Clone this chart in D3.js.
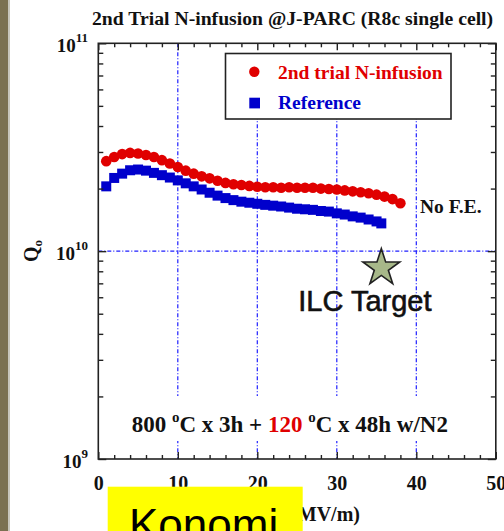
<!DOCTYPE html>
<html>
<head>
<meta charset="utf-8">
<script src="https://cdn.jsdelivr.net/npm/d3@7"></script>
<style>
  html, body { margin: 0; padding: 0; background: #fff; }
  svg { display: block; }
  .serif { font-family: "Liberation Serif", "Times New Roman", serif; font-weight: bold; }
</style>
</head>
<body>
<svg id="chart" width="504" height="531"></svg>
<script>
// Accelerating field (MV/m) and Q0 (x1e10) for the 2nd N-infusion trial
const eInfusion = [1, 2, 3, 4, 5, 6, 7, 8, 9, 10, 11, 12, 13, 14, 15, 16, 17, 18, 19, 20,
  21, 22, 23, 24, 25, 26, 27, 28, 29, 30, 31, 32, 33, 34, 35, 36, 37, 38];
const qInfusion = [2.71, 2.84, 2.93, 2.97, 2.95, 2.90, 2.84, 2.74, 2.64, 2.54, 2.44, 2.36, 2.29, 2.24,
  2.18, 2.13, 2.10, 2.08, 2.06, 2.04, 2.03, 2.03, 2.02, 2.03, 2.02, 2.02, 2.02, 2.00, 1.99, 1.98,
  1.96, 1.94, 1.92, 1.90, 1.87, 1.83, 1.78, 1.70];

// Reference measurement
const eReference = [1, 2, 3, 4, 5, 6, 7, 8, 9, 10, 11, 12, 13, 14, 15, 16, 17, 18, 19, 20,
  21, 22, 23, 24, 25, 26, 27, 28, 29, 30, 31, 32, 33, 34, 35, 35.6];
const qReference = [2.05, 2.25, 2.36, 2.45, 2.47, 2.44, 2.38, 2.32, 2.26, 2.19, 2.12, 2.05, 1.98, 1.91,
  1.85, 1.80, 1.76, 1.73, 1.71, 1.69, 1.67, 1.655, 1.64, 1.62, 1.60, 1.59, 1.58, 1.56, 1.55, 1.52,
  1.50, 1.47, 1.45, 1.42, 1.39, 1.36];

// ILC goal
const ilcTarget = [35.6, 0.83];

const xMajorTicks = [0, 10, 20, 30, 40, 50];
const xMinorTicks = [2, 4, 6, 8, 12, 14, 16, 18, 22, 24, 26, 28, 32, 34, 36, 38, 42, 44, 46, 48];
const xGridTicks = [10, 20, 30, 40];
const yMajorTicks = [1e9, 1e10, 1e11];
const yMinorTicks = [2e9, 3e9, 4e9, 5e9, 6e9, 7e9, 8e9, 9e9, 2e10, 3e10, 4e10, 5e10, 6e10, 7e10, 8e10, 9e10];
const yGridTicks = [1e10];

const seriesNames = ["2nd trial N-infusion", "Reference"];
const red = "#e00000", blue = "#0000cc", gridBlue = "#1f1fff";

const svg = d3.select("#chart");
const L = 98.3, R = 495.8, T = 43.3, B = 459;
const x = d3.scaleLinear().domain([0, 50]).range([L, R]);
const y = d3.scaleLog().domain([1e9, 1e11]).range([B, T]);

// slide edge on the left
svg.append("rect").attr("x", 0).attr("y", 0).attr("width", 8).attr("height", 531).attr("fill", "#7b7152");
svg.append("rect").attr("x", 8).attr("y", 0).attr("width", 2).attr("height", 531).attr("fill", "#c8c6bd");

// title
svg.append("text").attr("class", "serif").attr("x", 92).attr("y", 25)
  .attr("font-size", 19.7).attr("fill", "#111")
  .text("2nd Trial N-infusion @J-PARC (R8c single cell)");

// grid
const grid = svg.append("g").attr("stroke", gridBlue).attr("stroke-width", 1.2).attr("stroke-dasharray", "4,2,1,2");
grid.selectAll("line.v").data(xGridTicks).join("line")
  .attr("x1", d => x(d)).attr("x2", d => x(d)).attr("y1", T).attr("y2", B);
grid.selectAll("line.h").data(yGridTicks).join("line")
  .attr("x1", L).attr("x2", R).attr("y1", d => y(d)).attr("y2", d => y(d));

// white panels for legend and process note
svg.append("rect").attr("x", 125).attr("y", 396).attr("width", 333).attr("height", 45).attr("fill", "#fff");
svg.append("rect").attr("x", 225).attr("y", T).attr("width", 227).attr("height", 119 - T).attr("fill", "#fff");
const legend = svg.append("g");
legend.append("rect").attr("x", 225.5).attr("y", 53.5).attr("width", 225.5).attr("height", 65.5)
  .attr("fill", "#fff").attr("stroke", "#222").attr("stroke-width", 1.6);

// data
svg.append("g").selectAll("rect").data(eReference.map((e, i) => [e, qReference[i]])).join("rect")
  .attr("x", d => x(d[0]) - 5).attr("y", d => y(d[1] * 1e10) - 5)
  .attr("width", 10).attr("height", 10).attr("fill", blue);
svg.append("g").selectAll("circle").data(eInfusion.map((e, i) => [e, qInfusion[i]])).join("circle")
  .attr("cx", d => x(d[0])).attr("cy", d => y(d[1] * 1e10)).attr("r", 5.3).attr("fill", red);

// legend entries
legend.append("circle").attr("cx", 254.3).attr("cy", 71.7).attr("r", 5.2).attr("fill", red);
legend.append("text").attr("class", "serif").attr("x", 278).attr("y", 79.3)
  .attr("font-size", 19.5).attr("fill", red).text(seriesNames[0]);
legend.append("rect").attr("x", 249.3).attr("y", 97.7).attr("width", 10.7).attr("height", 10.7).attr("fill", blue);
legend.append("text").attr("class", "serif").attr("x", 278).attr("y", 108.5)
  .attr("font-size", 19.5).attr("fill", blue).text(seriesNames[1]);

// ILC target star
svg.append("path")
  .attr("d", d3.symbol(d3.symbolStar, 422))
  .attr("transform", `translate(${x(ilcTarget[0])},${y(ilcTarget[1] * 1e10)})`)
  .attr("fill", "#a7b889").attr("stroke", "#222").attr("stroke-width", 1.6).attr("stroke-linejoin", "miter");
svg.append("text").attr("x", 298.3).attr("y", 310.5)
  .attr("font-family", "'Liberation Sans', Arial, sans-serif").attr("font-size", 29)
  .attr("fill", "#111").attr("stroke", "#111").attr("stroke-width", 0.6).text("ILC Target");

// No field emission
svg.append("text").attr("class", "serif").attr("x", 420).attr("y", 213.3)
  .attr("font-size", 19.5).attr("fill", "#111").text("No F.E.");

// process note
const note = svg.append("text").attr("class", "serif").attr("x", 131.7).attr("y", 431.5)
  .attr("font-size", 23).attr("fill", "#111");
note.append("tspan").text("800 ");
note.append("tspan").attr("dy", -10).attr("font-size", 15).text("o");
note.append("tspan").attr("dy", 10).text("C x 3h + ");
note.append("tspan").attr("fill", red).text("120");
note.append("tspan").text(" ");
note.append("tspan").attr("dy", -10).attr("font-size", 15).text("o");
note.append("tspan").attr("dy", 10).text("C x 48h w/N2");

// axes (ticks point into the plot)
function styleAxis(g) {
  g.select(".domain").remove();
  g.selectAll(".tick line").attr("stroke", "#222").attr("stroke-width", 1.4);
}
svg.append("g").attr("transform", `translate(0,${B})`)
  .call(d3.axisBottom(x).tickValues(xMinorTicks).tickSizeInner(-4).tickSizeOuter(0).tickFormat(""))
  .call(styleAxis);
const xb = svg.append("g").attr("transform", `translate(0,${B})`)
  .call(d3.axisBottom(x).tickValues(xMajorTicks).tickSizeInner(-7).tickSizeOuter(0).tickPadding(16.8).tickFormat(d3.format("d")))
  .call(styleAxis);
xb.selectAll(".tick text").attr("class", "serif").attr("font-size", 20).attr("fill", "#111");
svg.append("g").attr("transform", `translate(0,${T})`)
  .call(d3.axisTop(x).tickValues(xMinorTicks).tickSizeInner(-4).tickSizeOuter(0).tickFormat(""))
  .call(styleAxis);
svg.append("g").attr("transform", `translate(0,${T})`)
  .call(d3.axisTop(x).tickValues(xMajorTicks).tickSizeInner(-7).tickSizeOuter(0).tickFormat(""))
  .call(styleAxis);

svg.append("g").attr("transform", `translate(${L},0)`)
  .call(d3.axisLeft(y).tickValues(yMinorTicks).tickSizeInner(-5).tickSizeOuter(0).tickFormat(""))
  .call(styleAxis);
const yl = svg.append("g").attr("transform", `translate(${L},0)`)
  .call(d3.axisLeft(y).tickValues(yMajorTicks).tickSizeInner(-8).tickSizeOuter(0).tickFormat(""))
  .call(styleAxis);
yl.selectAll(".tick text").each(function (d) {
  const t = d3.select(this).attr("class", "serif").attr("x", 88 - L).attr("y", 8).attr("dy", null)
    .attr("text-anchor", "end").attr("font-size", 19).attr("fill", "#111");
  t.append("tspan").text("10");
  t.append("tspan").attr("dy", -10).attr("font-size", 13).text(Math.round(Math.log10(d)));
});
svg.append("g").attr("transform", `translate(${R},0)`)
  .call(d3.axisRight(y).tickValues(yMinorTicks).tickSizeInner(-5).tickSizeOuter(0).tickFormat(""))
  .call(styleAxis);
svg.append("g").attr("transform", `translate(${R},0)`)
  .call(d3.axisRight(y).tickValues(yMajorTicks).tickSizeInner(-8).tickSizeOuter(0).tickFormat(""))
  .call(styleAxis);

// plot frame
svg.append("rect").attr("x", L).attr("y", T).attr("width", R - L).attr("height", B - T)
  .attr("fill", "none").attr("stroke", "#222").attr("stroke-width", 1.6);

// axis titles
const yt = svg.append("text").attr("class", "serif")
  .attr("transform", "translate(38,251) rotate(-90)").attr("text-anchor", "middle")
  .attr("font-size", 20).attr("fill", "#111");
yt.append("tspan").text("Q");
yt.append("tspan").attr("dy", 4).attr("font-size", 13).text("o");

const xt = svg.append("text").attr("class", "serif").attr("x", 360).attr("y", 521)
  .attr("text-anchor", "end").attr("font-size", 20).attr("fill", "#111");
xt.append("tspan").text("E");
xt.append("tspan").attr("dy", 4).attr("font-size", 14).text("acc");
xt.append("tspan").attr("dy", -4).text(" (MV/m)");

// name tag
svg.append("rect").attr("x", 107.7).attr("y", 486.7).attr("width", 195).attr("height", 50).attr("fill", "#ffff00");
svg.append("text").attr("x", 129).attr("y", 540)
  .attr("font-family", "'Liberation Sans', Arial, sans-serif").attr("font-size", 44)
  .attr("fill", "#000").text("Konomi");
</script>
</body>
</html>
